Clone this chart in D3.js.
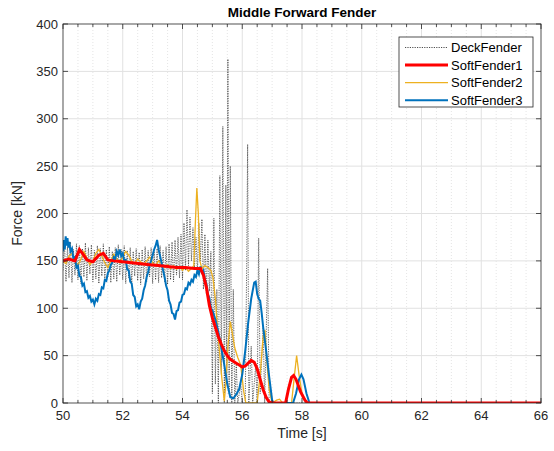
<!DOCTYPE html>
<html>
<head>
<meta charset="utf-8">
<script src="https://cdn.jsdelivr.net/npm/d3@7"></script>
<style>
  body { margin: 0; background: #fff; }
  svg { display: block; font-family: "Liberation Sans", Arial, sans-serif; }
</style>
</head>
<body>
<div id="chart"></div>
<script>
// time [s], force [kN]
const deckFender = [
  [50.00,140],[50.05,168],[50.10,128],[50.15,165],[50.20,132],[50.25,170],[50.30,127],[50.35,162],[50.40,135],[50.45,168],
  [50.50,130],[50.55,166],[50.60,126],[50.65,163],[50.70,133],[50.75,169],[50.80,129],[50.85,164],[50.90,136],[50.95,167],
  [51.00,128],[51.05,161],[51.10,131],[51.15,166],[51.20,126],[51.25,163],[51.30,134],[51.35,168],[51.40,129],[51.45,162],
  [51.50,133],[51.55,165],[51.60,127],[51.65,160],[51.70,131],[51.75,164],[51.80,128],[51.85,167],[51.90,135],[51.95,162],
  [52.00,130],[52.05,166],[52.10,126],[52.15,161],[52.20,132],[52.25,164],[52.30,127],[52.35,160],[52.40,134],[52.45,163],
  [52.50,129],[52.55,159],[52.60,125],[52.65,162],[52.70,131],[52.75,165],[52.80,128],[52.85,161],[52.90,133],[52.95,164],
  [53.00,126],[53.05,160],[53.10,130],[53.15,163],[53.20,127],[53.25,166],[53.30,132],[53.35,161],[53.40,128],[53.45,165],
  [53.50,125],[53.55,168],[53.60,130],[53.65,170],[53.70,128],[53.75,172],[53.80,135],[53.85,175],[53.90,132],[53.95,178],
  [54.00,130],[54.05,190],[54.10,140],[54.15,204],[54.20,145],[54.25,196],[54.30,150],[54.35,185],[54.40,142],[54.45,175],
  [54.50,138],[54.55,190],[54.60,150],[54.65,194],[54.70,120],[54.75,178],[54.80,115],[54.85,172],[54.90,118],[54.95,160],
  [55.00,10],[55.05,195],[55.10,20],[55.15,120],[55.20,0],[55.25,240],[55.30,30],[55.35,292],[55.40,0],[55.45,230],
  [55.48,20],[55.52,363],[55.56,10],[55.60,250],[55.65,0],[55.70,120],[55.75,0],[55.80,40],[55.85,0],[55.95,20],
  [56.00,0],[56.10,0],[56.15,150],[56.18,273],[56.22,0],[56.30,60],[56.35,0],[56.45,40],[56.50,0],[56.55,174],
  [56.60,10],[56.70,80],[56.75,0],[56.85,142],[56.90,0],[57.00,0],[66.00,0]
];

const softFender1 = [
  [50.0,150],[50.2,152],[50.4,150],[50.55,162],[50.65,158],[50.8,151],[51.0,149],[51.2,156],[51.35,158],[51.5,151],
  [51.7,150],[52.0,149],[52.3,148],[52.6,147],[52.9,146],[53.2,145],[53.5,144],[53.8,143],[54.1,143],[54.4,142],
  [54.6,142],[54.7,135],[54.8,122],[54.9,103],[55.0,90],[55.1,80],[55.2,70],[55.3,62],[55.4,55],[55.5,50],
  [55.6,46],[55.7,44],[55.8,42],[55.9,40],[56.0,38],[56.1,39],[56.2,42],[56.3,45],[56.4,43],[56.5,36],
  [56.6,25],[56.7,14],[56.8,6],[56.9,1],[57.0,0],[57.45,0],[57.55,15],[57.65,27],[57.72,29],[57.8,25],
  [57.95,12],[58.1,3],[58.18,0],[66.0,0]
];

const softFender2 = [
  [50.0,150],[50.1,147],[50.2,155],[50.3,158],[50.4,150],[50.5,145],[50.6,152],[50.7,160],[50.8,153],[50.9,146],
  [51.0,150],[51.1,158],[51.2,162],[51.3,155],[51.4,148],[51.5,143],[51.6,150],[51.7,157],[51.8,152],[51.9,148],
  [52.0,154],[52.1,160],[52.2,156],[52.3,150],[52.4,147],[52.5,152],[52.6,149],[52.7,146],[52.8,150],[52.9,154],
  [53.0,148],[53.1,145],[53.2,150],[53.3,147],[53.4,143],[53.5,146],[53.6,142],[53.7,145],[53.8,141],[53.9,144],
  [54.0,140],[54.1,143],[54.2,139],[54.3,142],[54.38,145],[54.43,190],[54.48,227],[54.53,200],[54.58,150],[54.65,142],
  [54.75,145],[54.85,143],[54.95,140],[55.02,132],[55.1,110],[55.18,75],[55.25,50],[55.32,25],[55.4,2],[55.45,20],
  [55.52,60],[55.6,86],[55.66,75],[55.75,58],[55.85,48],[55.95,40],[56.05,12],[56.12,0],[56.5,0],[56.6,30],
  [56.7,70],[56.76,77],[56.82,45],[56.9,15],[57.0,0],[57.15,3],[57.25,4],[57.35,0],[57.65,0],[57.75,30],
  [57.82,50],[57.9,30],[58.0,10],[58.15,0],[66.0,0]
];

const softFender3 = [
  [50.00,160],[50.03,172],[50.06,162],[50.09,176],[50.12,166],[50.15,174],[50.18,164],[50.21,170],[50.25,160],[50.30,163],
  [50.35,152],[50.40,154],[50.45,143],[50.50,145],[50.55,134],[50.60,133],[50.65,124],[50.70,126],[50.75,117],[50.80,118],
  [50.85,111],[50.90,113],[50.95,107],[51.00,109],[51.05,104],[51.10,110],[51.15,108],[51.20,115],[51.25,114],[51.30,122],
  [51.35,121],[51.40,130],[51.45,129],[51.50,137],[51.55,140],[51.60,146],[51.65,148],[51.70,154],[51.75,152],[51.80,160],
  [51.85,156],[51.90,162],[51.95,155],[52.00,158],[52.05,150],[52.10,151],[52.15,141],[52.20,140],[52.25,128],[52.30,126],
  [52.35,114],[52.40,112],[52.45,102],[52.50,104],[52.55,99],[52.60,107],[52.65,110],[52.70,119],[52.75,124],[52.80,133],
  [52.85,138],[52.90,146],[52.95,150],[53.00,156],[53.05,162],[53.10,166],[53.15,172],[53.20,162],[53.25,155],[53.30,148],
  [53.35,140],[53.40,133],[53.45,124],[53.50,119],[53.55,108],[53.60,104],[53.65,95],[53.70,94],[53.75,88],[53.80,97],
  [53.85,98],[53.90,106],[53.95,107],[54.00,114],[54.05,115],[54.10,121],[54.15,120],[54.20,127],[54.25,125],[54.30,130],
  [54.35,128],[54.40,135],[54.45,133],[54.50,140],[54.55,136],[54.60,144],[54.65,138],[54.70,140],[54.75,130],[54.80,126],
  [54.85,115],[54.90,111],[54.95,100],[55.0,98],[55.1,88],[55.2,75],[55.3,58],[55.4,40],[55.5,20],[55.6,6],
  [55.7,5],[55.8,9],[55.9,15],[56.0,30],[56.1,55],[56.2,85],[56.3,110],[56.4,127],[56.45,128],[56.5,115],
  [56.55,110],[56.6,108],[56.65,95],[56.7,80],[56.8,55],[56.9,28],[57.0,3],[57.05,0],[57.7,0],[57.8,10],
  [57.9,25],[57.98,30],[58.05,25],[58.15,10],[58.25,0],[66.0,0]
];

const xTicks = [50, 52, 54, 56, 58, 60, 62, 64, 66];
const yTicks = [0, 50, 100, 150, 200, 250, 300, 350, 400];
const legendNames = ["DeckFender", "SoftFender1", "SoftFender2", "SoftFender3"];

const width = 554, height = 451;
const pLeft = 63, pRight = 541, pTop = 24, pBottom = 403;

const x = d3.scaleLinear().domain([50, 66]).range([pLeft, pRight]);
const y = d3.scaleLinear().domain([0, 400]).range([pBottom, pTop]);

const svg = d3.select("#chart").append("svg")
  .attr("width", width)
  .attr("height", height);

svg.append("defs").append("clipPath").attr("id", "clip")
  .append("rect")
  .attr("x", pLeft).attr("y", pTop)
  .attr("width", pRight - pLeft).attr("height", pBottom - pTop);

// minor x grid (dotted, every 0.5 s)
const minorX = d3.range(50.5, 66, 0.5).filter(t => t % 2 !== 0);
svg.append("g").selectAll("line")
  .data(minorX)
  .enter().append("line")
  .attr("x1", d => x(d)).attr("x2", d => x(d))
  .attr("y1", pTop).attr("y2", pBottom)
  .attr("stroke", "#d4d4d4")
  .attr("stroke-width", 0.6)
  .attr("stroke-dasharray", "1,2");

// major grid
svg.append("g").selectAll("line")
  .data(xTicks.slice(1, -1))
  .enter().append("line")
  .attr("x1", d => x(d)).attr("x2", d => x(d))
  .attr("y1", pTop).attr("y2", pBottom)
  .attr("stroke", "#e1e1e1")
  .attr("stroke-width", 1);

svg.append("g").selectAll("line")
  .data(yTicks.slice(1, -1))
  .enter().append("line")
  .attr("x1", pLeft).attr("x2", pRight)
  .attr("y1", d => y(d)).attr("y2", d => y(d))
  .attr("stroke", "#e1e1e1")
  .attr("stroke-width", 1);

const line = d3.line()
  .x(d => x(d[0]))
  .y(d => y(d[1]));

const plot = svg.append("g").attr("clip-path", "url(#clip)");

plot.append("path")
  .datum(deckFender)
  .attr("fill", "none")
  .attr("stroke", "#222")
  .attr("stroke-width", 0.7)
  .attr("stroke-dasharray", "1.2,1.2")
  .attr("d", line);

plot.append("path")
  .datum(softFender2)
  .attr("fill", "none")
  .attr("stroke", "#EDB120")
  .attr("stroke-width", 1.3)
  .attr("d", line);

plot.append("path")
  .datum(softFender3)
  .attr("fill", "none")
  .attr("stroke", "#0072BD")
  .attr("stroke-width", 2)
  .attr("d", line);

plot.append("path")
  .datum(softFender1)
  .attr("fill", "none")
  .attr("stroke", "#FF0000")
  .attr("stroke-width", 3)
  .attr("d", line);

// axes box
svg.append("rect")
  .attr("x", pLeft).attr("y", pTop)
  .attr("width", pRight - pLeft).attr("height", pBottom - pTop)
  .attr("fill", "none")
  .attr("stroke", "#262626")
  .attr("stroke-width", 0.8);

// inward ticks: x major + minor on top and bottom
const tickG = svg.append("g").attr("stroke", "#262626").attr("stroke-width", 0.8);
xTicks.forEach(t => {
  tickG.append("line").attr("x1", x(t)).attr("x2", x(t)).attr("y1", pBottom).attr("y2", pBottom - 5);
  tickG.append("line").attr("x1", x(t)).attr("x2", x(t)).attr("y1", pTop).attr("y2", pTop + 5);
});
minorX.forEach(t => {
  tickG.append("line").attr("x1", x(t)).attr("x2", x(t)).attr("y1", pBottom).attr("y2", pBottom - 3);
  tickG.append("line").attr("x1", x(t)).attr("x2", x(t)).attr("y1", pTop).attr("y2", pTop + 3);
});
yTicks.forEach(v => {
  tickG.append("line").attr("x1", pLeft).attr("x2", pLeft + 5).attr("y1", y(v)).attr("y2", y(v));
  tickG.append("line").attr("x1", pRight).attr("x2", pRight - 5).attr("y1", y(v)).attr("y2", y(v));
});

// tick labels
svg.append("g").selectAll("text")
  .data(xTicks)
  .enter().append("text")
  .attr("x", d => x(d))
  .attr("y", pBottom + 17)
  .attr("text-anchor", "middle")
  .attr("font-size", 13)
  .attr("fill", "#262626")
  .text(d => d);

svg.append("g").selectAll("text")
  .data(yTicks)
  .enter().append("text")
  .attr("x", pLeft - 5)
  .attr("y", d => y(d) + 4.5)
  .attr("text-anchor", "end")
  .attr("font-size", 13)
  .attr("fill", "#262626")
  .text(d => d);

// labels and title
svg.append("text")
  .attr("x", (pLeft + pRight) / 2)
  .attr("y", 438)
  .attr("text-anchor", "middle")
  .attr("font-size", 14)
  .attr("fill", "#262626")
  .text("Time [s]");

svg.append("text")
  .attr("transform", `translate(22,${(pTop + pBottom) / 2}) rotate(-90)`)
  .attr("text-anchor", "middle")
  .attr("font-size", 14)
  .attr("fill", "#262626")
  .text("Force [kN]");

svg.append("text")
  .attr("x", (pLeft + pRight) / 2)
  .attr("y", 17)
  .attr("text-anchor", "middle")
  .attr("font-size", 13.5)
  .attr("font-weight", "bold")
  .attr("fill", "#000")
  .text("Middle Forward Fender");

// legend
const legendStyle = [
  { stroke: "#222", width: 0.8, dash: "1.2,1.2" },
  { stroke: "#FF0000", width: 3, dash: null },
  { stroke: "#EDB120", width: 1.3, dash: null },
  { stroke: "#0072BD", width: 2, dash: null }
];
const legend = svg.append("g");
legend.append("rect")
  .attr("x", 399).attr("y", 37)
  .attr("width", 134).attr("height", 70)
  .attr("fill", "#fff")
  .attr("stroke", "#262626")
  .attr("stroke-width", 0.8);

const rows = legend.selectAll(".row")
  .data(legendNames)
  .enter().append("g")
  .attr("class", "row")
  .attr("transform", (d, i) => `translate(0,${47.5 + i * 17.6})`);

rows.append("line")
  .attr("x1", 405).attr("x2", 448)
  .attr("y1", 0).attr("y2", 0)
  .attr("stroke", (d, i) => legendStyle[i].stroke)
  .attr("stroke-width", (d, i) => legendStyle[i].width)
  .attr("stroke-dasharray", (d, i) => legendStyle[i].dash);

rows.append("text")
  .attr("x", 451)
  .attr("y", 4.5)
  .attr("font-size", 13)
  .attr("fill", "#000")
  .text(d => d);
</script>
</body>
</html>
